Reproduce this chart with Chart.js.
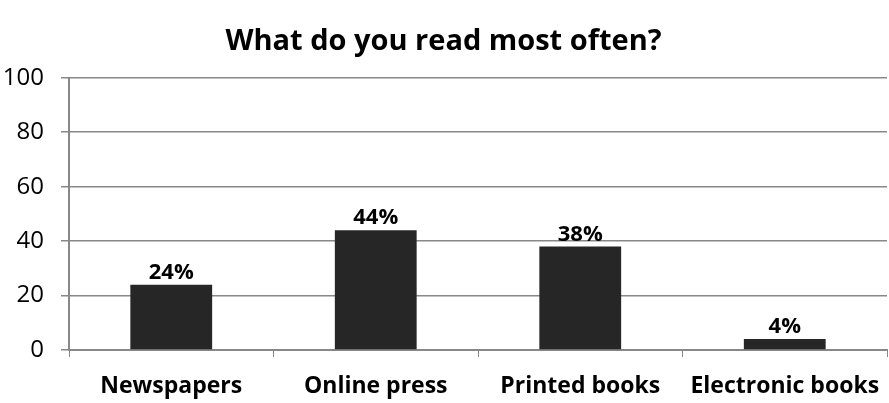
<!DOCTYPE html>
<html>
<head>
<meta charset="utf-8">
<script src="https://cdn.jsdelivr.net/npm/chart.js@4"></script>
<style>
  html, body { margin: 0; padding: 0; background: #fff; }
  #wrap { width: 889px; height: 403px; }
</style>
</head>
<body>
<div id="wrap"><canvas id="chart"></canvas></div>
<script>
// categories and values
const categories = ["Newspapers", "Online press", "Printed books", "Electronic books"];
const shares = [24, 44, 38, 4];
const yTicks = [0, 20, 40, 60, 80, 100];

const fontFamily = "'Open Sans', 'DejaVu Sans', sans-serif";

// draw the percentage above every bar
const barLabels = {
  id: "barLabels",
  afterDatasetsDraw(chart) {
    const ctx = chart.ctx;
    const meta = chart.getDatasetMeta(0);
    ctx.save();
    ctx.font = "bold 22px " + fontFamily;
    ctx.fillStyle = "#000";
    ctx.textAlign = "center";
    ctx.textBaseline = "alphabetic";
    meta.data.forEach((bar, i) => {
      ctx.fillText(shares[i] + "%", bar.x, bar.y - 6);
    });
    ctx.restore();
  }
};

new Chart(document.getElementById("chart"), {
  type: "bar",
  plugins: [barLabels],
  data: {
    labels: categories,
    datasets: [{
      data: shares,
      backgroundColor: "#262626",
      borderColor: "#262626",
      barPercentage: 0.4,
      categoryPercentage: 1.0
    }]
  },
  options: {
    responsive: true,
    maintainAspectRatio: false,
    animation: false,
    layout: { padding: { left: 0, right: 2, top: 0, bottom: 0 } },
    plugins: {
      legend: { display: false },
      tooltip: { enabled: false },
      title: {
        display: true,
        text: "What do you read most often?",
        color: "#000",
        font: { family: fontFamily, size: 29, weight: "bold" },
        padding: { top: 24, bottom: 19 }
      }
    },
    scales: {
      x: {
        afterFit: (axis) => {
          axis.height = 53;
          axis.paddingLeft = 0;
          axis.paddingRight = 0;
        },
        grid: {
          offset: true,
          drawOnChartArea: false,
          drawTicks: true,
          tickLength: 7,
          color: "#888"
        },
        border: { color: "#888", width: 2 },
        ticks: {
          color: "#000",
          padding: 16,
          font: { family: fontFamily, size: 23, weight: "bold" }
        }
      },
      y: {
        min: 0,
        max: 100,
        afterBuildTicks: (axis) => { axis.ticks = yTicks.map(v => ({ value: v })); },
        afterFit: (axis) => { axis.width = 69; },
        grid: { color: "#888", tickLength: 8, lineWidth: 1.5 },
        border: { color: "#888", width: 2 },
        ticks: {
          color: "#000",
          padding: 17,
          font: { family: fontFamily, size: 24 }
        }
      }
    }
  }
});
</script>
</body>
</html>
